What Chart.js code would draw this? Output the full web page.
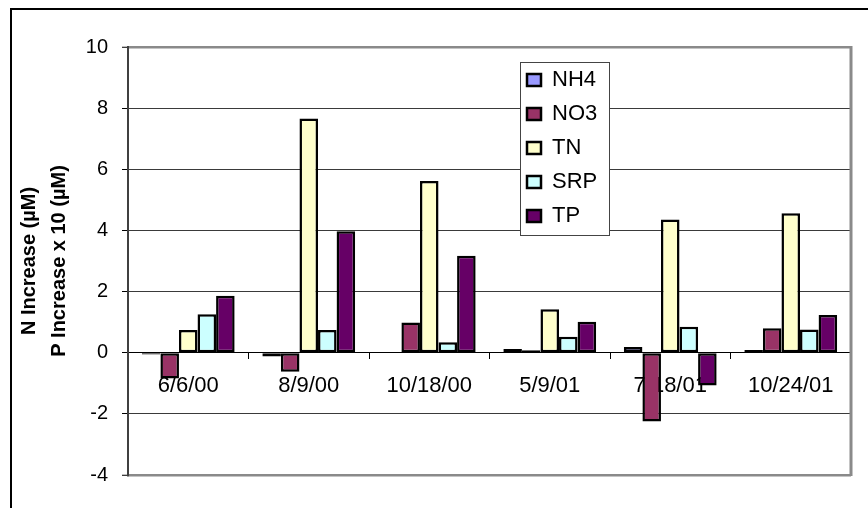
<!DOCTYPE html>
<html><head><meta charset="utf-8">
<script src="https://cdn.jsdelivr.net/npm/chart.js@4"></script>
<style>html,body{margin:0;padding:0;background:#fff}#wrap{width:868px;height:508px}</style>
</head><body><div id="wrap"><canvas id="c" width="868" height="508"></canvas></div>
<script>
const categories = ['6/6/00', '8/9/00', '10/18/00', '5/9/01', '7/18/01', '10/24/01'];
const nh4 = [-0.06, -0.12, 0, 0.12, 0.19, 0.09];
const no3 = [-0.84, -0.62, 0.99, 0.08, -2.25, 0.80];
const tn  = [0.74, 7.66, 5.62, 1.42, 4.36, 4.56];
const srp = [1.26, 0.74, 0.34, 0.52, 0.85, 0.76];
const tp  = [1.86, 3.97, 3.17, 1.01, -1.07, 1.23];
const yTickValues = [-4, -2, 0, 2, 4, 6, 8, 10];
const seriesNames = ['NH4', 'NO3', 'TN', 'SRP', 'TP'];
const seriesColors = ['#9999FF', '#993366', '#FFFFCC', '#CCFFFF', '#660066'];
const seriesData = [nh4, no3, tn, srp, tp];

const FONT = "'Liberation Sans', Arial, sans-serif";

const framePlugin = {
  id: 'frame',
  beforeDraw(chart) {
    const ctx = chart.ctx;
    ctx.save();
    ctx.fillStyle = '#fff';
    ctx.fillRect(0, 0, chart.width, chart.height);
    ctx.strokeStyle = '#000';
    ctx.lineWidth = 2;
    ctx.strokeRect(11, 9, chart.width + 40, chart.height + 40);
    ctx.restore();
  },
  afterLayout(chart) {
    const lg = chart.legend;
    if (!lg) return;
    lg.left = 515; lg.top = 57; lg.width = 100; lg.height = 185;
    lg.right = lg.left + lg.width; lg.bottom = lg.top + lg.height;
  },
  afterDatasetsDraw(chart) {
    const ctx = chart.ctx;
    const a = chart.chartArea;
    ctx.save();
    ctx.strokeStyle = '#8a8a8a';
    ctx.lineWidth = 3;
    ctx.beginPath();
    ctx.moveTo(a.right, a.top - 1);
    ctx.lineTo(a.right, a.bottom + 1);
    ctx.stroke();
    ctx.fillStyle = '#fff';
    ctx.fillRect(520.5, 62.5, 89, 173);
    ctx.strokeStyle = '#444';
    ctx.lineWidth = 1;
    ctx.strokeRect(520.5, 62.5, 89, 173);
    ctx.restore();
    chart.legend.draw();
  }
};

new Chart(document.getElementById('c'), {
  type: 'bar',
  data: {
    labels: categories,
    datasets: seriesNames.map((n, i) => ({
      label: n,
      data: seriesData[i],
      backgroundColor: seriesColors[i],
      borderColor: '#000',
      borderWidth: 2.5,
      borderSkipped: false,
      categoryPercentage: 0.77,
      barPercentage: 1.0
    }))
  },
  options: {
    responsive: false,
    devicePixelRatio: 1,
    animation: false,
    layout: { padding: { left: 0, top: 47, right: 17, bottom: 33 } },
    plugins: {
      legend: {
        position: 'chartArea',
        align: 'start',
        labels: {
          font: { family: FONT, size: 22 },
          color: '#000',
          boxWidth: 14,
          boxHeight: 12,
          padding: 12
        }
      },
      tooltip: { enabled: false }
    },
    scales: {
      x: {
        position: { y: 0 },
        grid: { display: true, drawOnChartArea: false, drawTicks: true, tickLength: 6, color: '#000', offset: true },
        border: { display: true, color: '#000', width: 1 },
        ticks: { font: { family: FONT, size: 22 }, color: '#000', padding: 14, maxRotation: 0, minRotation: 0, autoSkip: false },
        afterFit(s) { s.height = 0; }
      },
      y: {
        min: -4,
        max: 10,
        afterBuildTicks(s) { s.ticks = yTickValues.map(v => ({ value: v })); },
        ticks: { font: { family: FONT, size: 20 }, color: '#000', padding: 14 },
        grid: {
          color: c => (c.tick && (c.tick.value === 10 || c.tick.value === -4)) ? '#8a8a8a' : '#3a3a3a',
          lineWidth: c => (c.tick && (c.tick.value === 10 || c.tick.value === -4)) ? 2.5 : 1,
          tickLength: 6,
          tickColor: '#000',
          tickWidth: 1
        },
        border: { color: '#404040', width: 2 },
        title: {
          display: true,
          text: ['N Increase (\u00B5M)', 'P Increase x 10 (\u00B5M)'],
          font: { family: FONT, size: 20, weight: 'bold', lineHeight: 1.5 },
          color: '#000',
          padding: { top: 14, bottom: 0 }
        },
        afterFit(s) { s.width = 128; }
      }
    }
  },
  plugins: [framePlugin]
});
</script>
</body></html>
